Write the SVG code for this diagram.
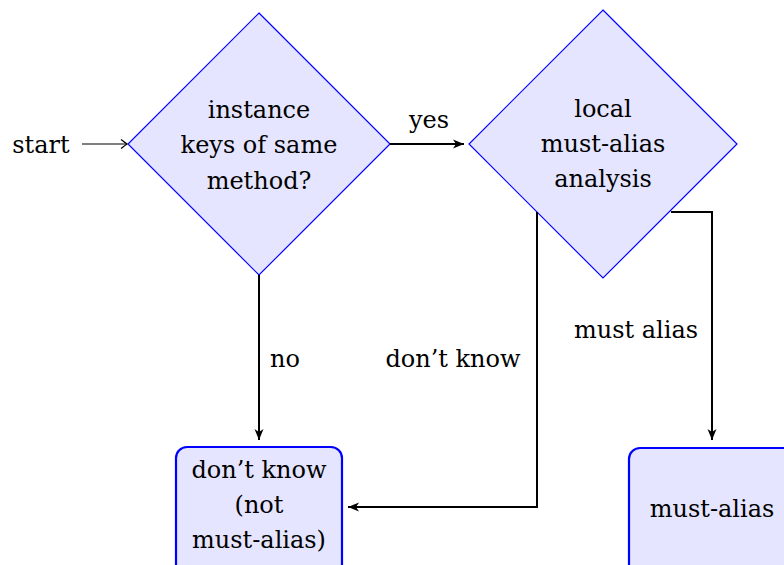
<svg xmlns="http://www.w3.org/2000/svg" width="784" height="565" viewBox="0 0 784 565">
<style>
text{font-family:"DejaVu Serif","Liberation Serif",serif;font-size:24px;fill:#000;text-anchor:middle}
.dia{fill:#e5e5ff;stroke:#0000ff;stroke-width:1.2}
.box{fill:#e5e5ff;stroke:#0000ff;stroke-width:2.2}
.conn{fill:none;stroke:#000;stroke-width:2}
.thin{fill:none;stroke:#000;stroke-width:1.2}
</style>
<defs>
<marker id="stealth" markerUnits="userSpaceOnUse" markerWidth="14" markerHeight="12" viewBox="-12 -6 14 12" refX="0" refY="0" orient="auto">
<path d="M0,0 L-11,-4.5 L-8,0 L-11,4.5 Z" fill="#000"/>
</marker>
<marker id="to" markerUnits="userSpaceOnUse" markerWidth="12" markerHeight="12" viewBox="-8 -6 10 12" refX="0" refY="0" orient="auto">
<path d="M-6,-4.5 Q-1.5,-1 0,0 Q-1.5,1 -6,4.5" fill="none" stroke="#000" stroke-width="1.2"/>
</marker>
</defs>
<g id="n-start"><text x="41" y="153">start</text></g>
<g id="n-q1">
<polygon class="dia" points="259,13 390,144 259,275 128,144"/>
<text x="259" y="118">instance</text>
<text x="259" y="153">keys of same</text>
<text x="259" y="189">method?</text>
</g>
<g id="n-q2">
<polygon class="dia" points="603,10 737,144 603,278 469,144"/>
<text x="603" y="117">local</text>
<text x="603" y="152">must-alias</text>
<text x="603" y="187">analysis</text>
</g>
<g id="n-dontknow">
<rect class="box" x="176" y="447" width="166" height="130" rx="11"/>
<text x="259" y="478">don’t know</text>
<text x="259" y="513">(not</text>
<text x="259" y="548">must-alias)</text>
</g>
<g id="n-mustalias">
<rect class="box" x="629" y="448" width="170" height="130" rx="11"/>
<text x="712" y="517">must-alias</text>
</g>
<g id="connectors">
<path class="thin" d="M82,144 L127,144" marker-end="url(#to)"/>
<path class="conn" d="M390,144 L464,144" marker-end="url(#stealth)"/>
<path class="conn" d="M259,275 L259,440" marker-end="url(#stealth)"/>
<path class="conn" d="M537,212 L537,507 L348,507" marker-end="url(#stealth)"/>
<path class="conn" d="M671,212 L712,212 L712,440" marker-end="url(#stealth)"/>
<text x="429" y="128">yes</text>
<text x="285" y="367">no</text>
<text x="453" y="367">don’t know</text>
<text x="636" y="338">must alias</text>
</g>
</svg>
